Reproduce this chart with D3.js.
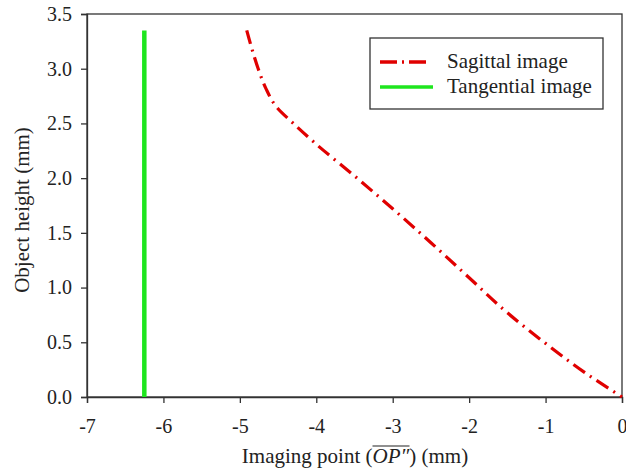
<!DOCTYPE html>
<html>
<head>
    <meta charset="utf-8">
    <script src="https://d3js.org/d3.v7.min.js"></script>
    <style>
        body { margin: 0; background: #fff; }
        text { font-family: "Liberation Serif", "Times New Roman", serif; fill: #222; }
        .axis text { font-size: 20px; }
        .axis path, .axis line { stroke: #333; stroke-width: 1.3px; }
    </style>
</head>
<body>
<svg id="chart" width="626" height="471"></svg>
<script>
    // values
    const sagittalX = [-4.91, -4.85, -4.76, -4.66, -4.52, -4.30, -4.00, -3.50, -3.00, -2.50, -2.00, -1.50, -1.00, -0.50, 0];
    const sagittalY = [3.35, 3.20, 3.00, 2.82, 2.65, 2.50, 2.31, 2.02, 1.72, 1.41, 1.09, 0.77, 0.49, 0.23, 0];
    const tangentialX = [-6.25, -6.25];
    const tangentialY = [0, 3.35];
    const xTicks = [-7, -6, -5, -4, -3, -2, -1, 0];
    const yTicks = [0, 0.5, 1, 1.5, 2, 2.5, 3, 3.5];
    const seriesNames = ['Sagittal image', 'Tangential image'];

    const svg = d3.select('#chart');
    const mLeft = 87, mRight = 622, mTop = 14, mBottom = 397;

    const x = d3.scaleLinear().domain([-7, 0]).range([mLeft, mRight]);
    const y = d3.scaleLinear().domain([0, 3.5]).range([mBottom, mTop]);

    // frame
    svg.append('rect')
        .attr('x', mLeft).attr('y', mTop)
        .attr('width', mRight - mLeft).attr('height', mBottom - mTop)
        .attr('fill', 'none').attr('stroke', '#333').attr('stroke-width', 1.3);

    svg.append('g').attr('class', 'axis')
        .attr('transform', `translate(0,${mBottom})`)
        .call(d3.axisBottom(x).tickValues(xTicks).tickSize(6).tickPadding(16)
            .tickFormat(d => String(d)));

    svg.append('g').attr('class', 'axis')
        .attr('transform', `translate(${mLeft},0)`)
        .call(d3.axisLeft(y).tickValues(yTicks).tickSize(6).tickPadding(9).tickFormat(d3.format('.1f')));

    const line = d3.line().x(d => x(d[0])).y(d => y(d[1])).curve(d3.curveMonotoneY);
    const sagDash = '14,6,2,6';

    svg.append('path')
        .datum(d3.zip(tangentialX, tangentialY))
        .attr('d', d3.line().x(d => x(d[0])).y(d => y(d[1])))
        .attr('fill', 'none').attr('stroke', '#1ee61e').attr('stroke-width', 4.5);

    svg.append('path')
        .datum(d3.zip(sagittalX, sagittalY))
        .attr('d', line)
        .attr('fill', 'none').attr('stroke', '#e00000').attr('stroke-width', 3.2)
        .attr('stroke-dasharray', sagDash);

    // axis titles
    const xt = svg.append('text')
        .attr('x', 355).attr('y', 463)
        .attr('text-anchor', 'middle')
        .style('font-size', '21px');
    xt.append('tspan').text('Imaging point (');
    const op = xt.append('tspan').attr('font-style', 'italic').text('OP\u2033');
    xt.append('tspan').text(') (mm)');
    const b = op.node().getBBox();
    svg.append('line')
        .attr('x1', b.x).attr('x2', b.x + b.width)
        .attr('y1', b.y + 2).attr('y2', b.y + 2)
        .attr('stroke', '#222').attr('stroke-width', 1.2);

    svg.append('text')
        .attr('transform', 'translate(29,210) rotate(-90)')
        .attr('text-anchor', 'middle')
        .style('font-size', '21px')
        .text('Object height (mm)');

    // legend
    const lg = svg.append('g');
    lg.append('rect')
        .attr('x', 370).attr('y', 38).attr('width', 233).attr('height', 71)
        .attr('fill', '#fff').attr('stroke', '#333').attr('stroke-width', 1.3);
    const legendStyles = [
        { color: '#e00000', dash: '17,5,2,5', w: 3.5, x2: 428 },
        { color: '#1ee61e', dash: null, w: 3.5, x2: 433 }
    ];
    seriesNames.forEach((name, i) => {
        const yy = 62 + i * 25;
        lg.append('line')
            .attr('x1', 380).attr('x2', legendStyles[i].x2).attr('y1', yy).attr('y2', yy)
            .attr('stroke', legendStyles[i].color)
            .attr('stroke-width', legendStyles[i].w)
            .attr('stroke-dasharray', legendStyles[i].dash);
        lg.append('text')
            .attr('x', 447).attr('y', yy + 6)
            .style('font-size', '21px')
            .text(name);
    });
</script>
</body>
</html>
